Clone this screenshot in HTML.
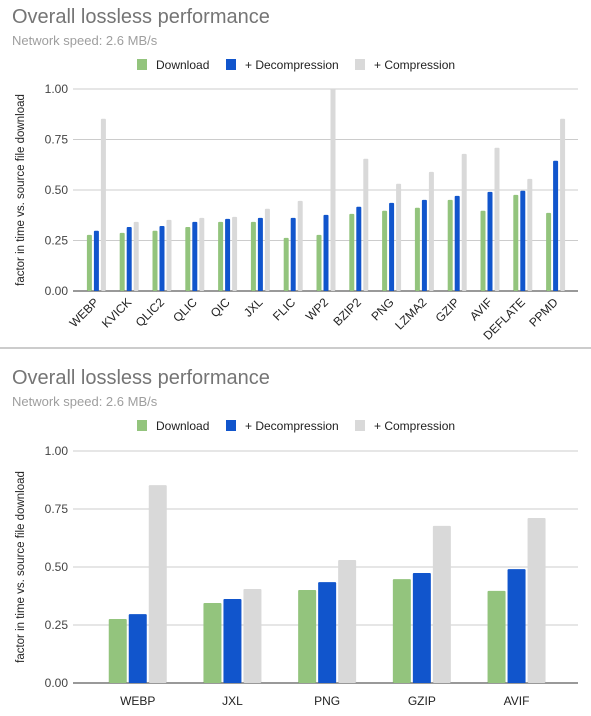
<!DOCTYPE html>
<html><head><meta charset="utf-8"><style>
html,body{margin:0;padding:0;background:#fff;width:591px;height:716px;overflow:hidden}
svg{display:block;font-family:"Liberation Sans",Arial,sans-serif}
</style></head><body>
<svg id="s" width="591" height="716"></svg>
<script>
const cats1=["WEBP","KVICK","QLIC2","QLIC","QIC","JXL","FLIC","WP2","BZIP2","PNG","LZMA2","GZIP","AVIF","DEFLATE","PPMD"];
const download1=[0.278,0.288,0.298,0.317,0.342,0.342,0.263,0.278,0.382,0.397,0.412,0.451,0.397,0.476,0.387];
const decomp1=[0.298,0.317,0.322,0.342,0.357,0.362,0.362,0.377,0.417,0.436,0.451,0.471,0.491,0.496,0.645];
const comp1=[0.853,0.342,0.352,0.362,0.367,0.407,0.446,1.0,0.655,0.531,0.590,0.679,0.709,0.555,0.853];
const cats2=["WEBP","JXL","PNG","GZIP","AVIF"];
const download2=[0.276,0.345,0.401,0.448,0.397];
const decomp2=[0.297,0.362,0.435,0.474,0.491];
const comp2=[0.853,0.405,0.530,0.677,0.711];
const yTicks=[0,0.25,0.5,0.75,1.0];
const seriesNames=["Download","+ Decompression","+ Compression"];
const colors=["#93c47d","#1155cc","#d9d9d9"];
const NS="http://www.w3.org/2000/svg";
const svg=document.getElementById('s');
function mk(tag,attrs,parent,text){const e=document.createElementNS(NS,tag);for(const k in attrs)e.setAttribute(k,attrs[k]);if(text!==undefined)e.textContent=text;(parent||svg).appendChild(e);return e;}

function drawChart(off,cats,series,y0,y1,bandStart,band,bw,gap,rotated,id){
  const g=mk('g',{});
  
  
  const yS=v=>y0-(y0-y1)*v;
  const t=mk('text',{x:12,y:off+23,'font-size':20,fill:'#757575'},g,'Overall lossless performance');
  
  
  const st=mk('text',{x:12,y:off+45,'font-size':13,fill:'#9e9e9e'},g,'Network speed: 2.6 MB/s');
  
  
  const lx=[137,226,355];
  seriesNames.forEach((n,i)=>{
    const lg=mk('g',{},g);
    
    
    mk('rect',{x:lx[i],y:off+59,width:10,height:11,fill:colors[i]},lg);
    mk('text',{x:lx[i]+19,y:off+69,'font-size':12,fill:'#222'},lg,n);
  });
  yTicks.forEach(v=>{
    const y=yS(v);
    const gl=mk('line',{x1:73,x2:578,y1:y,y2:y,stroke:v===0?'#333':'#ccc','stroke-width':1},g);
    
    
    const tl=mk('text',{x:68,y:y+4,'font-size':12,fill:'#444','text-anchor':'end'},g,v.toFixed(2));
    
    
  });
  const cy=(y0+y1)/2;
  const yt=mk('text',{x:24,y:cy,'font-size':11.5,fill:'#222','text-anchor':'middle',transform:`rotate(-90 24 ${cy})`},g,'factor in time  vs.  source file download');
  
  
  cats.forEach((c,i)=>{
    const cx=bandStart+band*(i+0.5);
    series.forEach((s,j)=>{
      const x=cx+(j-1)*(bw+gap)-bw/2;
      const r=mk('rect',{x:x,y:yS(s[i]),width:bw,height:y0-yS(s[i]),fill:colors[j],rx:1},g);
      
      
    });
    let lab;
    if(rotated){
      lab=mk('text',{x:cx+3,y:y0+12,'font-size':12,fill:'#222','text-anchor':'end',transform:`rotate(-45 ${cx+3} ${y0+12})`},g,c);
    }else{
      lab=mk('text',{x:cx,y:y0+22,'font-size':12,fill:'#222','text-anchor':'middle'},g,c);
    }
    
    
  });
}
drawChart(0,cats1,[download1,decomp1,comp1],291,89,80,32.8,5,2,true,'chart-all-codecs');
const sep=mk('line',{x1:0,x2:591,y1:348,y2:348,stroke:'#999','stroke-width':1});


drawChart(361,cats2,[download2,decomp2,comp2],683,451,90.4,94.7,18,2,false,'chart-selected-codecs');
</script>
</body></html>
